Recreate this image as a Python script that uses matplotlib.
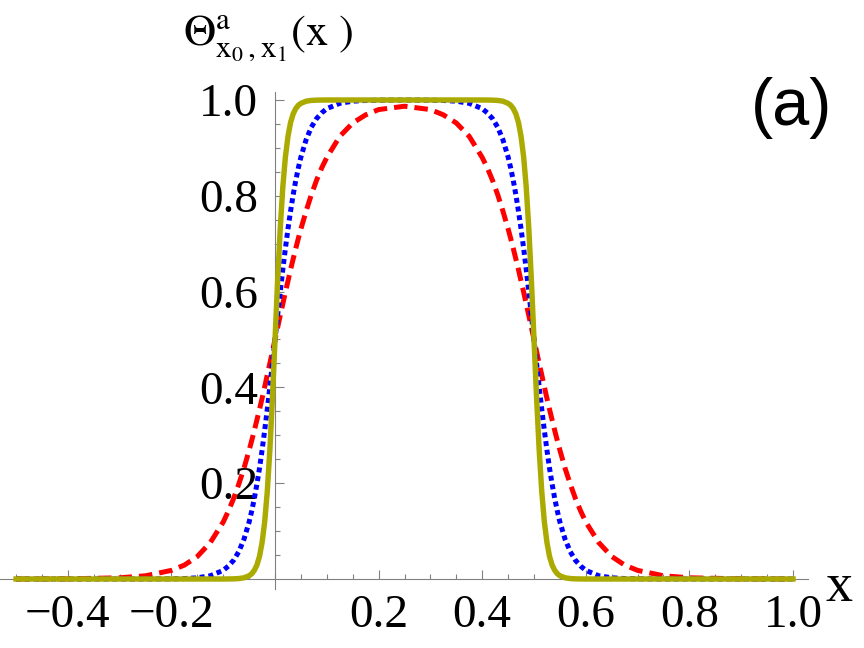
import matplotlib
matplotlib.use("Agg")
from matplotlib import pyplot as plt
from matplotlib.ticker import FixedLocator, FixedFormatter

matplotlib.rcParams.update({
    'font.family': 'Liberation Serif',
    'mathtext.fontset': 'stix',
})

# sample positions along x (denser where the curves turn)
x = [-0.5, -0.4, -0.3, -0.25, -0.2, -0.175, -0.15, -0.125, -0.1, -0.09,
     -0.08, -0.07, -0.06, -0.05, -0.045, -0.04, -0.035, -0.03, -0.025, -0.02,
     -0.015, -0.01, -0.005, 0.0, 0.005, 0.01, 0.015, 0.02, 0.025, 0.03,
     0.035, 0.04, 0.045, 0.05, 0.06, 0.07, 0.08, 0.09, 0.1, 0.125,
     0.15, 0.175, 0.2, 0.25,
     0.3, 0.325, 0.35, 0.375, 0.4, 0.41, 0.42, 0.43, 0.44, 0.45,
     0.455, 0.46, 0.465, 0.47, 0.475, 0.48, 0.485, 0.49, 0.495, 0.5,
     0.505, 0.51, 0.515, 0.52, 0.525, 0.53, 0.535, 0.54, 0.545, 0.55,
     0.56, 0.57, 0.58, 0.59, 0.6, 0.625, 0.65, 0.675, 0.7, 0.75,
     0.8, 0.9, 1.0]

# red dashed curve (widest transition)
red = [0.0, 0.0003, 0.0025, 0.0067, 0.018, 0.029, 0.047, 0.076, 0.119, 0.142,
       0.168, 0.198, 0.231, 0.269, 0.289, 0.310, 0.332, 0.354, 0.377, 0.401,
       0.426, 0.450, 0.475, 0.500, 0.525, 0.550, 0.574, 0.599, 0.622, 0.646,
       0.668, 0.690, 0.711, 0.731, 0.768, 0.802, 0.832, 0.858, 0.880, 0.924,
       0.952, 0.969, 0.980, 0.987,
       0.980, 0.969, 0.952, 0.924, 0.880, 0.858, 0.832, 0.802, 0.768, 0.731,
       0.711, 0.690, 0.668, 0.646, 0.622, 0.599, 0.574, 0.550, 0.525, 0.500,
       0.475, 0.450, 0.426, 0.401, 0.377, 0.354, 0.332, 0.310, 0.289, 0.269,
       0.231, 0.198, 0.168, 0.142, 0.119, 0.076, 0.047, 0.029, 0.018, 0.0067,
       0.0025, 0.0003, 0.0]

# blue dotted curve
blue = [0.0, 0.0, 0.0, 0.0, 0.0003, 0.0009, 0.0025, 0.0067, 0.018, 0.027,
        0.039, 0.057, 0.083, 0.119, 0.142, 0.168, 0.198, 0.231, 0.269, 0.310,
        0.354, 0.401, 0.450, 0.500, 0.550, 0.599, 0.646, 0.690, 0.731, 0.768,
        0.802, 0.832, 0.858, 0.881, 0.917, 0.943, 0.961, 0.973, 0.982, 0.993,
        0.9975, 0.999, 0.9996, 0.9999,
        0.9996, 0.999, 0.9975, 0.993, 0.982, 0.973, 0.961, 0.943, 0.917, 0.881,
        0.858, 0.832, 0.802, 0.768, 0.731, 0.690, 0.646, 0.599, 0.550, 0.500,
        0.450, 0.401, 0.354, 0.310, 0.269, 0.231, 0.198, 0.168, 0.142, 0.119,
        0.083, 0.057, 0.039, 0.027, 0.018, 0.0067, 0.0025, 0.0009, 0.0003, 0.0,
        0.0, 0.0, 0.0]

# olive solid curve (sharpest)
olive = [0.0, 0.0, 0.0, 0.0, 0.0, 0.0, 0.0, 0.0, 0.0, 0.0001,
         0.0003, 0.0009, 0.0025, 0.0067, 0.011, 0.018, 0.029, 0.047, 0.076, 0.119,
         0.182, 0.269, 0.378, 0.500, 0.622, 0.731, 0.818, 0.881, 0.924, 0.953,
         0.971, 0.982, 0.989, 0.993, 0.9975, 0.9991, 0.9997, 0.9999, 1.0, 1.0,
         1.0, 1.0, 1.0, 1.0,
         1.0, 1.0, 1.0, 1.0, 1.0, 0.9999, 0.9997, 0.9991, 0.9975, 0.993,
         0.989, 0.982, 0.971, 0.953, 0.924, 0.881, 0.818, 0.731, 0.622, 0.500,
         0.378, 0.269, 0.182, 0.119, 0.076, 0.047, 0.029, 0.018, 0.011, 0.0067,
         0.0025, 0.0009, 0.0003, 0.0001, 0.0, 0.0, 0.0, 0.0, 0.0, 0.0,
         0.0, 0.0, 0.0]

x_ticks = [-0.4, -0.2, 0.2, 0.4, 0.6, 0.8, 1.0]
x_tick_labels = ['\u22120.4', '\u22120.2', '0.2', '0.4', '0.6', '0.8', '1.0']
y_ticks = [0.2, 0.4, 0.6, 0.8, 1.0]
y_tick_labels = ['0.2', '0.4', '0.6', '0.8', '1.0']
minor_ticks = [i * 0.05 for i in range(-10, 21)]

fig = plt.figure(figsize=(8.64, 6.48), dpi=100)
ax = fig.add_axes([0.0, 59 / 648, 808 / 864, 497 / 648])
ax.set_xlim(-0.531, 1.029)
ax.set_ylim(-0.0209, 1.0167)

ax.plot(x, red, color='#ff0000', lw=3.6, ls=(0, (2.7, 1.4)), clip_on=False, zorder=3)
ax.plot(x, blue, color='#0000ff', lw=3.6, ls=(0, (1.0, 0.75)), dash_capstyle='butt',
        clip_on=False, zorder=4)
ax.plot(x, olive, color='#aaaa00', lw=3.9, clip_on=False, zorder=5)

for side in ['top', 'right']:
    ax.spines[side].set_visible(False)
for side in ['left', 'bottom']:
    ax.spines[side].set_position(('data', 0))
    ax.spines[side].set_color('#808080')
    ax.spines[side].set_linewidth(0.8)
    ax.spines[side].set_zorder(1)

ax.xaxis.set_major_locator(FixedLocator(x_ticks))
ax.xaxis.set_major_formatter(FixedFormatter(x_tick_labels))
ax.xaxis.set_minor_locator(FixedLocator(minor_ticks))
ax.yaxis.set_major_locator(FixedLocator(y_ticks))
ax.yaxis.set_major_formatter(FixedFormatter(y_tick_labels))
ax.yaxis.set_minor_locator(FixedLocator([t for t in minor_ticks if t > 0]))

ax.tick_params(which='both', direction='in', color='#808080', width=0.8)
ax.tick_params(which='major', length=6.5, labelsize=34)
ax.tick_params(which='minor', length=3.6)
ax.tick_params(axis='x', which='major', pad=11)
ax.tick_params(axis='y', which='major', pad=12)

fig.text(183 / 864, 1 - 38 / 648,
         r'$\Theta^{\mathrm{a}}_{\mathrm{x}_{0}\,,\mathrm{x}_{1}}(\mathrm{x}\ )$',
         fontsize=32, ha='left', va='center')
fig.text(839 / 864, 1 - 588 / 648, 'x', fontsize=39, ha='center', va='center')
fig.text(792 / 864, 1 - 108 / 648, '(a)', family='Liberation Sans', fontsize=48,
         ha='center', va='center')

fig.savefig('out.png', dpi=100)
